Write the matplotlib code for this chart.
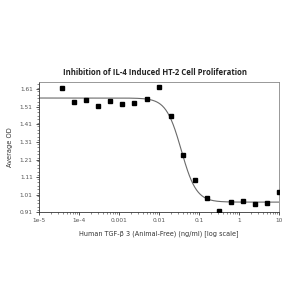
import numpy as np
import matplotlib
matplotlib.use("Agg")
import matplotlib.pyplot as plt
from matplotlib.ticker import FixedLocator, MultipleLocator, LogLocator, NullFormatter

# Data (ng/ml, average OD)
conc = [3.8e-5, 7.6e-5, 1.53e-4, 3.05e-4, 6.1e-4, 1.22e-3, 2.44e-3, 4.88e-3,
        9.77e-3, 0.0195, 0.039, 0.078, 0.156, 0.3125, 0.625, 1.25, 2.5, 5.0, 10.0]
od = [1.619, 1.539, 1.550, 1.516, 1.544, 1.527, 1.530, 1.556,
      1.624, 1.459, 1.236, 1.093, 0.990, 0.915, 0.967, 0.973, 0.956, 0.961, 1.024]

# 4PL fit parameters
fit_top = 1.561
fit_bottom = 0.967
fit_ec50 = 0.036
fit_hill = 2.3

xticks = [1e-5, 1e-4, 1e-3, 1e-2, 1e-1, 1, 10]
xticklabels = ["1e-5", "1e-4", "0.001", "0.01", "0.1", "1", "10"]
yticks = [0.91, 1.01, 1.11, 1.21, 1.31, 1.41, 1.51, 1.61]

fig = plt.figure(figsize=(3, 3), dpi=100)
ax = fig.add_axes([0.13, 0.293, 0.80, 0.434])

xs = np.logspace(-5, 1, 400)
ys = fit_bottom + (fit_top - fit_bottom) / (1 + (xs / fit_ec50) ** fit_hill)
ax.plot(xs, ys, color="#6a6a6a", lw=0.8, zorder=2)
ax.plot(conc, od, ls="none", marker="s", ms=2.8, color="black", zorder=3)

ax.set_xscale("log")
ax.set_xlim(1e-5, 10)
ax.set_ylim(0.91, 1.653)
ax.xaxis.set_major_locator(FixedLocator(xticks))
ax.set_xticklabels(xticklabels)
ax.xaxis.set_minor_locator(LogLocator(base=10, subs=np.arange(2, 10)))
ax.xaxis.set_minor_formatter(NullFormatter())
ax.yaxis.set_major_locator(FixedLocator(yticks))
ax.set_yticklabels([f"{v:.2f}" for v in yticks])
ax.yaxis.set_minor_locator(MultipleLocator(0.02))

ax.tick_params(axis="both", which="major", length=2.5, width=0.6, labelsize=4.2,
               colors="#333333", labelcolor="#555555", pad=2)
ax.tick_params(axis="both", which="minor", length=1.2, width=0.4, colors="#333333")

for s in ["left", "bottom"]:
    ax.spines[s].set_color("#333333")
    ax.spines[s].set_linewidth(0.6)
for s in ["top", "right"]:
    ax.spines[s].set_color("#888888")
    ax.spines[s].set_linewidth(0.6)

ax.set_xlabel("Human TGF-β 3 (Animal-Free) (ng/ml) [log scale]", fontsize=4.7,
              color="#333333", labelpad=5)
ax.set_ylabel("Average OD", fontsize=4.8, color="#333333", labelpad=5)
fig.text(0.517, 0.758, "Inhibition of IL-4 Induced HT-2 Cell Proliferation",
         ha="center", va="center", fontsize=5.6, fontweight="bold",
         family="Open Sans", color="#222222")

fig.savefig("out.png", dpi=100)
